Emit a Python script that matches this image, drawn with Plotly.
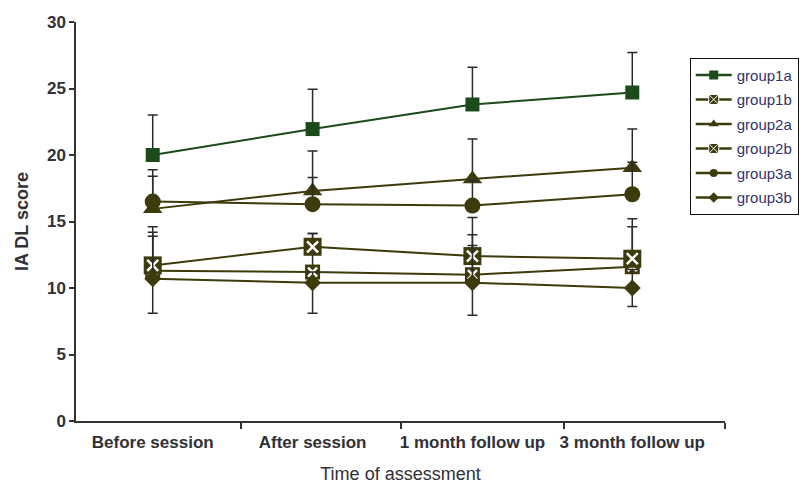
import plotly.graph_objects as go

# Assessment time points (x categories)
time_points = ["Before session", "After session", "1 month follow up", "3 month follow up"]
x_idx = [0, 1, 2, 3]

# Mean IADL scores per group
group1a = [20.0, 21.95, 23.8, 24.7]
group1b = [11.3, 11.2, 11.0, 11.6]
group2a = [15.95, 17.3, 18.2, 19.05]
group2b = [11.7, 13.1, 12.4, 12.2]
group3a = [16.5, 16.3, 16.2, 17.05]
group3b = [10.7, 10.4, 10.4, 10.0]

# Error bars (upper / lower extents)
err1a_up = [3.0, 3.0, 2.8, 3.0]
err1b_up = [2.9, 2.9, 3.0, 3.0]
err2a_up = [2.45, 3.0, 3.0, 2.9]
err2b_up = [2.9, 1.0, 2.9, 3.0]
err3a_up = [2.4, 2.0, 1.9, 2.4]
err3b_up = [3.2, 0.8, 2.8, 1.4]
err3b_dn = [2.6, 2.3, 2.45, 1.4]

GREEN = "#1b4a1b"
OLIVE = "#3d3b0c"
ERR = "#2a2a2a"
TEXT = "#303036"
FONT = "Arial, Liberation Sans, sans-serif"

fig = go.Figure()


def err(up, down=None):
    d = dict(type="data", array=up, color=ERR, thickness=1.5, width=5, visible=True,
             symmetric=False)
    d["arrayminus"] = down if down is not None else [0] * len(up)
    return d


# name, values, error bars, colour, plot symbol, plot size, legend symbol, legend size, cross size
series = [
    ("group1a", group1a, err(err1a_up), GREEN, "square", 14, "square", 9, 0),
    ("group1b", group1b, err(err1b_up), OLIVE, "square", 15, "square-x", 10, 9),
    ("group2a", group2a, err(err2a_up), OLIVE, "triangle-up", 17, "triangle-up", 9, 0),
    ("group2b", group2b, err(err2b_up), OLIVE, "square", 18, "square-x", 10, 11),
    ("group3a", group3a, err(err3a_up), OLIVE, "circle", 16, "circle", 8, 0),
    ("group3b", group3b, err(err3b_up, err3b_dn), OLIVE, "diamond", 13, "diamond", 8, 0),
]

for name, vals, ebar, color, sym, size, lsym, lsize, xsize in series:
    fig.add_trace(go.Scatter(
        x=x_idx, y=vals, name=name, mode="lines+markers", showlegend=False,
        line=dict(color=color, width=2),
        marker=dict(symbol=sym, size=size, color=color, line=dict(color=color, width=0)),
        error_y=ebar, legendgroup=name,
    ))
    if xsize:
        # white cross inside the filled square
        fig.add_trace(go.Scatter(
            x=x_idx, y=vals, mode="markers", showlegend=False, hoverinfo="skip",
            marker=dict(symbol="x-thin-open", size=xsize, color="white",
                        line=dict(color="white", width=2.5)),
        ))

# legend keys with compact markers
for name, vals, ebar, color, sym, size, lsym, lsize, xsize in series:
    outline = dict(color="white", width=1) if xsize else dict(color=color, width=0)
    fig.add_trace(go.Scatter(
        x=[None], y=[None], name=name, mode="lines+markers",
        line=dict(color=color, width=2.5),
        marker=dict(symbol=lsym, size=lsize, color=color, line=outline),
        legendgroup=name, hoverinfo="skip",
    ))

fig.update_layout(
    width=802, height=485,
    margin=dict(l=76, r=77, t=22, b=64, autoexpand=False),
    paper_bgcolor="white", plot_bgcolor="white",
    font=dict(family=FONT, color=TEXT),
    legend=dict(
        xref="container", yref="container",
        x=0.860, y=0.881, xanchor="left", yanchor="top",
        bordercolor="#111111", borderwidth=1, bgcolor="white",
        font=dict(size=15, color="#33336b", family=FONT),
        tracegroupgap=2, itemwidth=36,
    ),
)

fig.update_xaxes(
    range=[-0.48, 3.58], automargin=False,
    tickmode="array", tickvals=x_idx, ticktext=time_points,
    ticks="", showgrid=False, zeroline=False,
    showline=True, linecolor="#333333", linewidth=1.5,
    ticklabelstandoff=5,
    tickfont=dict(size=17, family=FONT, color=TEXT, weight="bold"),
    minor=dict(tickmode="array", tickvals=[0.55, 1.55, 2.57, 3.58],
               ticks="outside", ticklen=6, tickcolor="#333333", tickwidth=1.5,
               showgrid=False),
    title=dict(text="Time of assessment", font=dict(size=18, family=FONT, color=TEXT),
               standoff=16),
)

fig.update_yaxes(
    range=[0, 30], automargin=False, tickvals=[0, 5, 10, 15, 20, 25, 30],
    ticks="outside", ticklen=5, tickcolor="#333333", tickwidth=1.5,
    showgrid=False, zeroline=False,
    showline=True, linecolor="#333333", linewidth=1.5,
    tickfont=dict(size=17, family=FONT, color=TEXT, weight="bold"),
    title=dict(text="IA DL score", font=dict(size=18, family=FONT, color=TEXT, weight="bold"),
               standoff=14),
)

fig.write_html("out.html")
